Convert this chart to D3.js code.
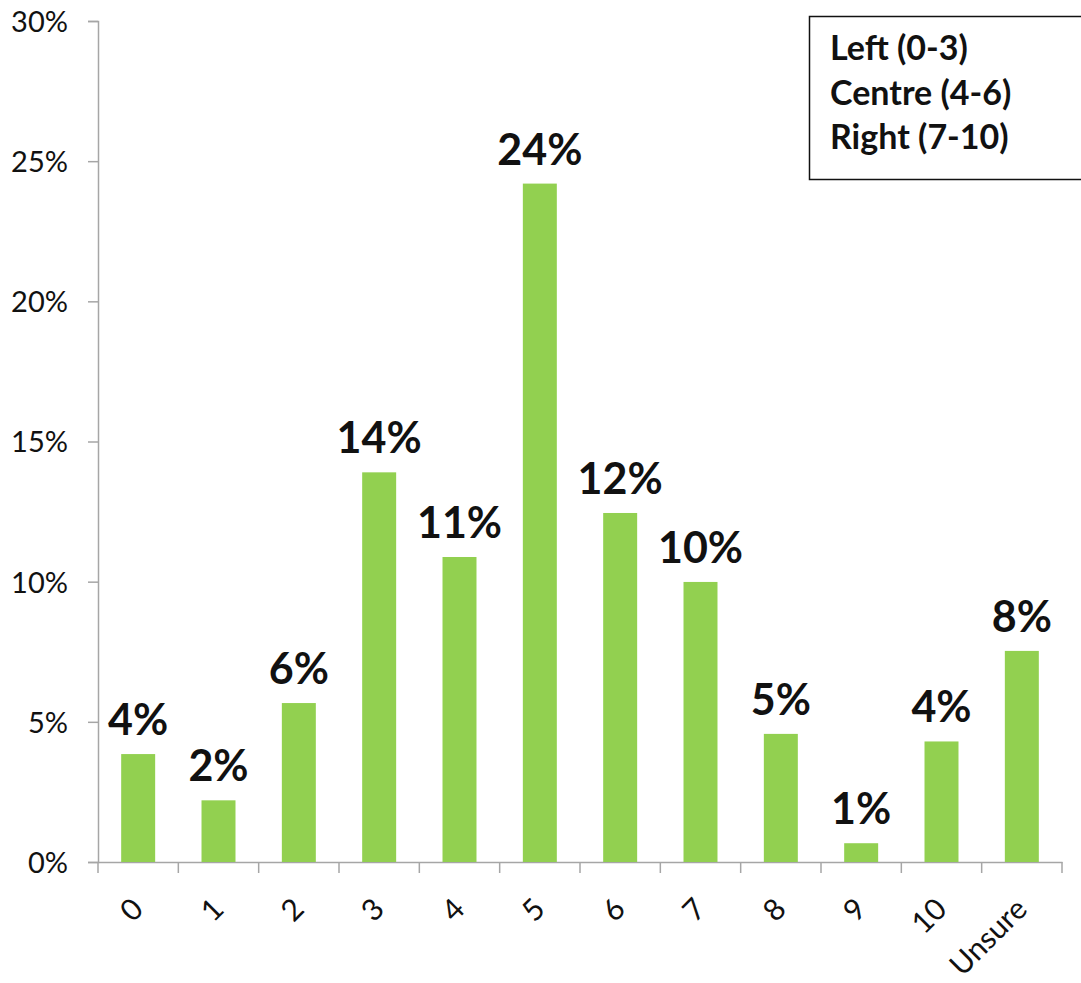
<!DOCTYPE html>
<html><head><meta charset="utf-8">
<script src="https://cdn.jsdelivr.net/npm/d3@7/dist/d3.min.js"></script>
<style>body{margin:0;background:#fff}svg{display:block}</style>
</head><body>
<svg id="c" width="1081" height="983"></svg>
<script>
const categories = ["0","1","2","3","4","5","6","7","8","9","10","Unsure"];
const values = [3.85, 2.2, 5.67, 13.9, 10.88, 24.2, 12.45, 9.99, 4.57, 0.67, 4.3, 7.53];
const valueLabels = ["4%","2%","6%","14%","11%","24%","12%","10%","5%","1%","4%","8%"];
const yTicks = [0,5,10,15,20,25,30];
const legendLines = ["Left (0-3)","Centre (4-6)","Right (7-10)"];

(function(){
const svg = d3.select("#c");
const mL = 98, mR = 1062, mT = 21, mB = 862;
const x = d3.scaleBand().domain(categories).range([mL, mR]).padding(0);
const y = d3.scaleLinear().domain([0,30]).range([mB, mT]);
const barW = x.bandwidth()*0.423;
const axisColor = "#a6a6a6";
const font = "Lato, 'Open Sans', sans-serif";

// y axis
const ya = svg.append("g").attr("transform",`translate(${mL},0)`)
  .call(d3.axisLeft(y).tickValues(yTicks).tickFormat(d=>d+"%").tickSize(10).tickPadding(20));
ya.select(".domain").attr("stroke",axisColor).attr("stroke-width",1.5);
ya.selectAll(".tick line").attr("stroke",axisColor).attr("stroke-width",1.5);
ya.selectAll(".tick text").attr("font-family",font).attr("font-size",29).attr("fill","#111").attr("dy","0.36em");

// x axis
const xa = svg.append("g").attr("transform",`translate(0,${mB})`)
  .call(d3.axisBottom(x).tickSize(0).tickPadding(0));
xa.select(".domain").attr("stroke",axisColor).attr("stroke-width",1.5);
xa.selectAll(".tick line").remove();
const bounds = categories.map(c=>x(c)).concat([mR]);
xa.selectAll(".bt").data(bounds).enter().append("line").attr("class","bt")
  .attr("x1",d=>d).attr("x2",d=>d).attr("y1",0).attr("y2",11)
  .attr("stroke",axisColor).attr("stroke-width",1.5);
xa.selectAll(".tick text")
  .attr("font-family",font).attr("font-size",30).attr("fill","#111")
  .attr("text-anchor","end").attr("dy","0")
  .attr("transform", "translate(7,49) rotate(-45)");

// bars
svg.selectAll(".bar").data(values).enter().append("rect").attr("class","bar")
  .attr("x",(d,i)=>x(categories[i])+x.bandwidth()/2-barW/2)
  .attr("width",barW)
  .attr("y",d=>y(d)).attr("height",d=>mB-y(d))
  .attr("fill","#92d050");

// value labels
svg.selectAll(".vl").data(values).enter().append("text").attr("class","vl")
  .attr("x",(d,i)=>x(categories[i])+x.bandwidth()/2)
  .attr("y",d=>y(d)-19)
  .attr("text-anchor","middle").attr("font-family",font).attr("font-weight","bold")
  .attr("font-size",43).attr("fill","#111")
  .text((d,i)=>valueLabels[i]);

// legend box
svg.append("rect").attr("x",809.5).attr("y",16.5).attr("width",290).attr("height",163)
  .attr("fill","#fff").attr("stroke","#111").attr("stroke-width",1.5);
svg.selectAll(".lg").data(legendLines).enter().append("text").attr("class","lg")
  .attr("x",830).attr("y",(d,i)=>60+i*44.5)
  .attr("font-family",font).attr("font-weight","bold").attr("font-size",34).attr("fill","#111")
  .text(d=>d);
})();
</script>
</body></html>
